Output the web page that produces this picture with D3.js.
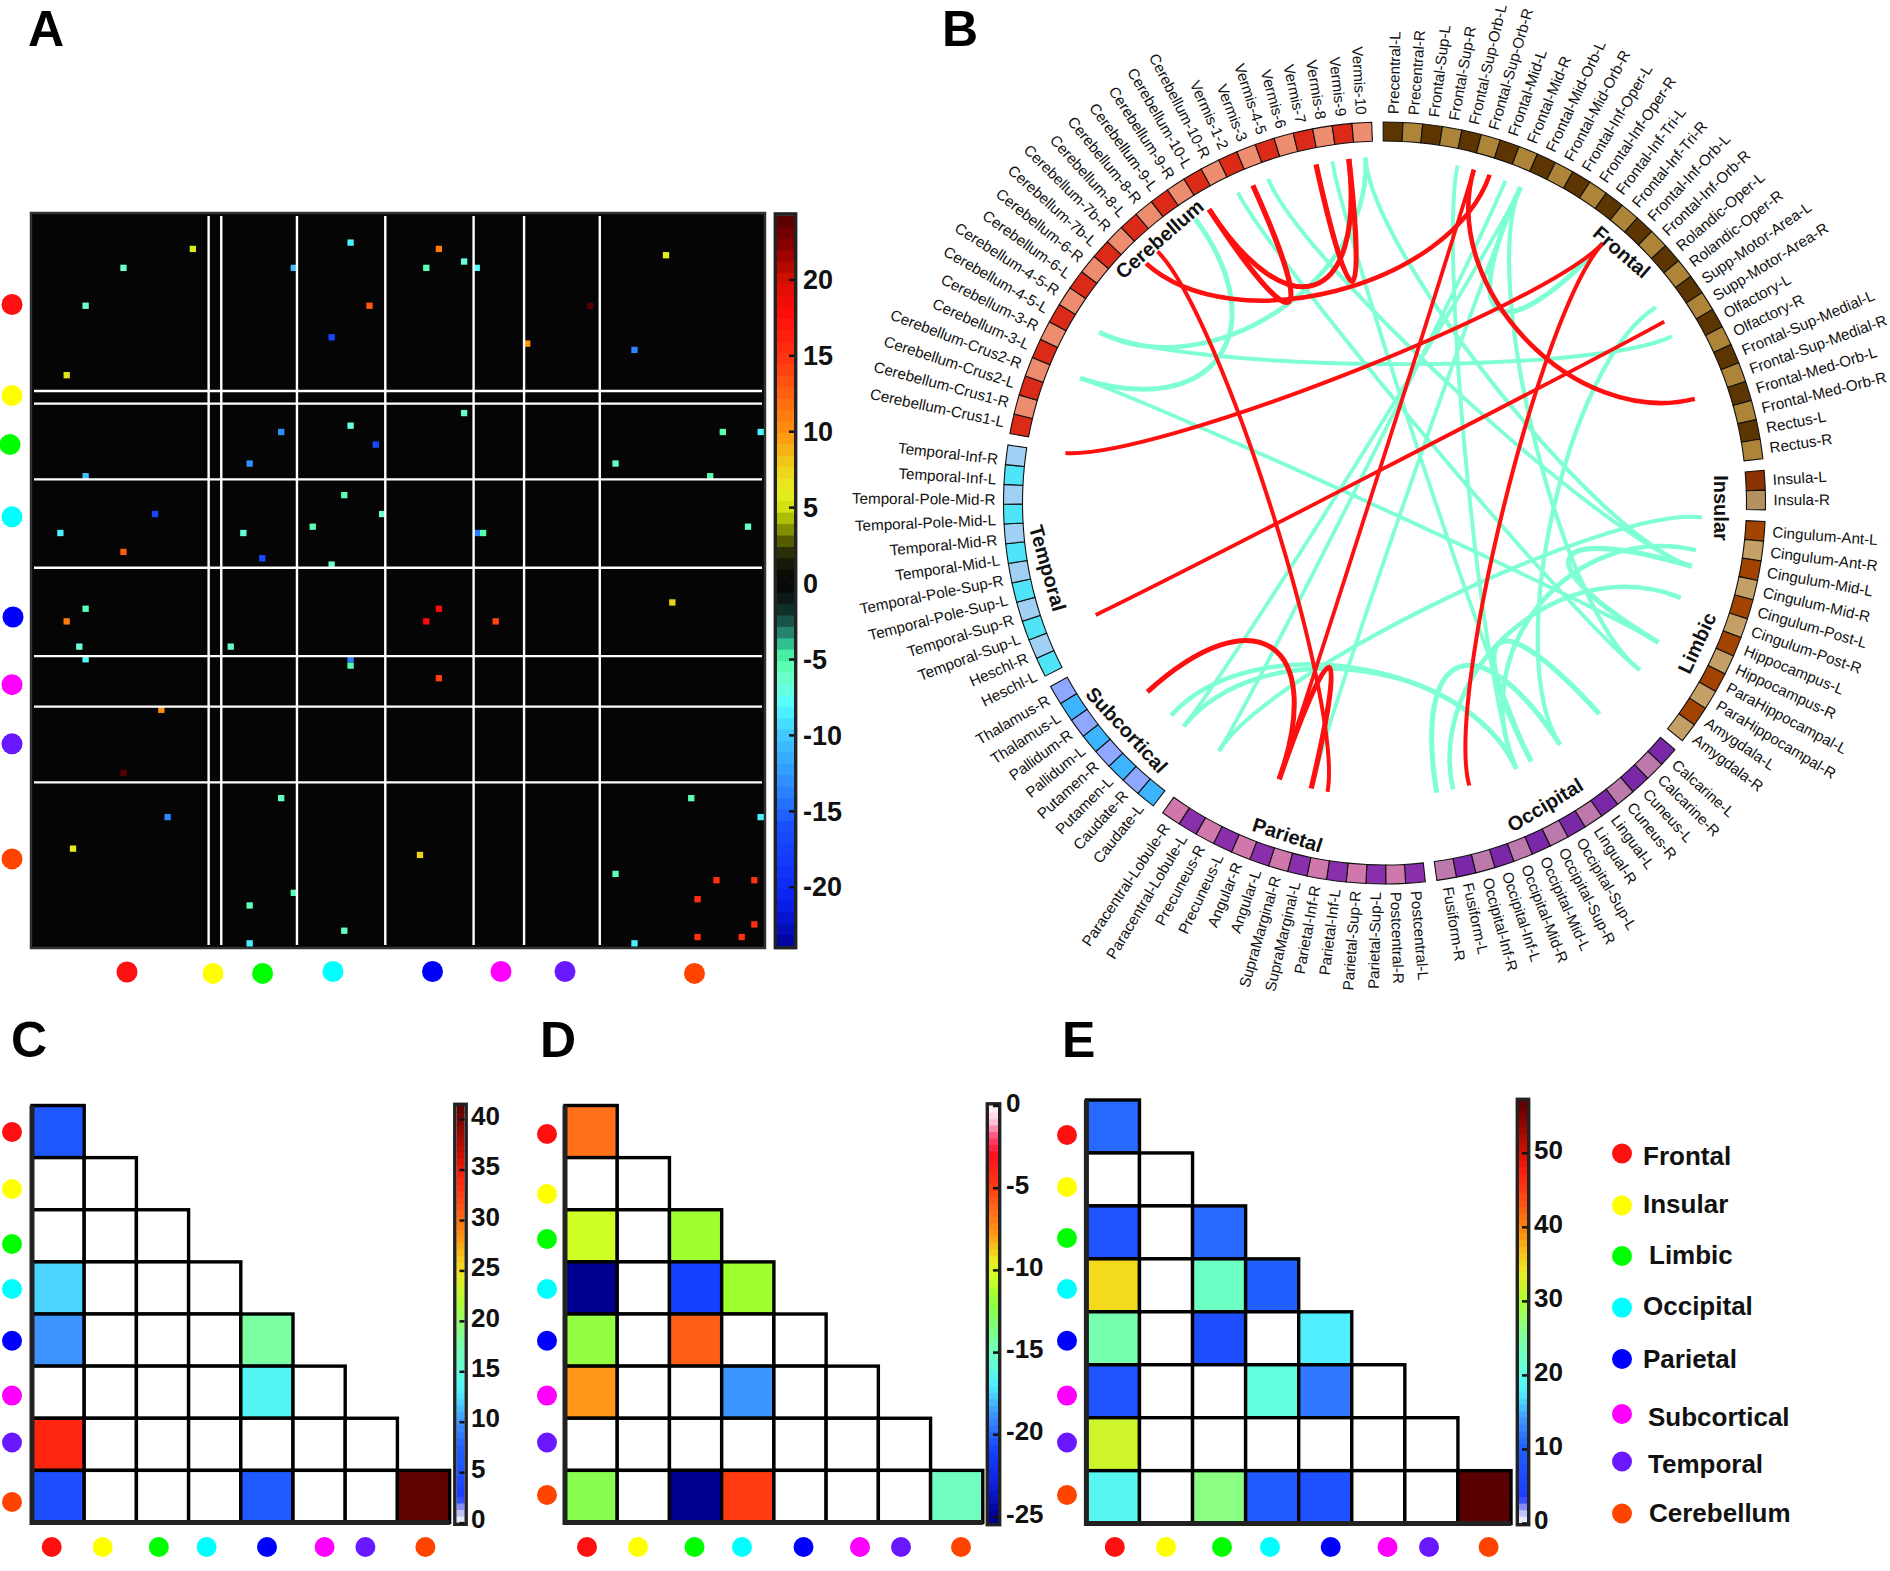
<!DOCTYPE html>
<html><head><meta charset="utf-8">
<script src="https://cdn.jsdelivr.net/npm/d3@7"></script>
<style>html,body{margin:0;padding:0;background:#fff}svg{display:block}text{font-family:"Liberation Sans",Arial,sans-serif}</style>
</head><body><svg id="c" width="1890" height="1571"></svg>
<script>
const groupNames=["Frontal","Insular","Limbic","Occipital","Parietal","Subcortical","Temporal","Cerebellum"];
const groupColors=["#ff1010","#ffff00","#00ff00","#00ffff","#0000ff","#ff00ff","#6a18ff","#ff4400"];
const frontal=["Precentral-L","Precentral-R","Frontal-Sup-L","Frontal-Sup-R","Frontal-Sup-Orb-L","Frontal-Sup-Orb-R","Frontal-Mid-L","Frontal-Mid-R","Frontal-Mid-Orb-L","Frontal-Mid-Orb-R","Frontal-Inf-Oper-L","Frontal-Inf-Oper-R","Frontal-Inf-Tri-L","Frontal-Inf-Tri-R","Frontal-Inf-Orb-L","Frontal-Inf-Orb-R","Rolandic-Oper-L","Rolandic-Oper-R","Supp-Motor-Area-L","Supp-Motor-Area-R","Olfactory-L","Olfactory-R","Frontal-Sup-Medial-L","Frontal-Sup-Medial-R","Frontal-Med-Orb-L","Frontal-Med-Orb-R","Rectus-L","Rectus-R"];
const insular=["Insula-L","Insula-R"];
const limbic=["Cingulum-Ant-L","Cingulum-Ant-R","Cingulum-Mid-L","Cingulum-Mid-R","Cingulum-Post-L","Cingulum-Post-R","Hippocampus-L","Hippocampus-R","ParaHippocampal-L","ParaHippocampal-R","Amygdala-L","Amygdala-R"];
const occipital=["Calcarine-L","Calcarine-R","Cuneus-L","Cuneus-R","Lingual-L","Lingual-R","Occipital-Sup-L","Occipital-Sup-R","Occipital-Mid-L","Occipital-Mid-R","Occipital-Inf-L","Occipital-Inf-R","Fusiform-L","Fusiform-R"];
const parietal=["Postcentral-L","Postcentral-R","Parietal-Sup-L","Parietal-Sup-R","Parietal-Inf-L","Parietal-Inf-R","SupraMarginal-L","SupraMarginal-R","Angular-L","Angular-R","Precuneus-L","Precuneus-R","Paracentral-Lobule-L","Paracentral-Lobule-R"];
const subcortical=["Caudate-L","Caudate-R","Putamen-L","Putamen-R","Pallidum-L","Pallidum-R","Thalamus-L","Thalamus-R"];
const temporal=["Heschl-L","Heschl-R","Temporal-Sup-L","Temporal-Sup-R","Temporal-Pole-Sup-L","Temporal-Pole-Sup-R","Temporal-Mid-L","Temporal-Mid-R","Temporal-Pole-Mid-L","Temporal-Pole-Mid-R","Temporal-Inf-L","Temporal-Inf-R"];
const cerebellum=["Cerebellum-Crus1-L","Cerebellum-Crus1-R","Cerebellum-Crus2-L","Cerebellum-Crus2-R","Cerebellum-3-L","Cerebellum-3-R","Cerebellum-4-5-L","Cerebellum-4-5-R","Cerebellum-6-L","Cerebellum-6-R","Cerebellum-7b-L","Cerebellum-7b-R","Cerebellum-8-L","Cerebellum-8-R","Cerebellum-9-L","Cerebellum-9-R","Cerebellum-10-L","Cerebellum-10-R","Vermis-1-2","Vermis-3","Vermis-4-5","Vermis-6","Vermis-7","Vermis-8","Vermis-9","Vermis-10"];
const groups=[frontal,insular,limbic,occipital,parietal,subcortical,temporal,cerebellum];
// significant connections: ROI index, ROI index, value
const edges=[[4,50,-8.5],[5,25,5.5],[5,64,11],[6,100,5.8],[7,68,-7],[8,14,-6.3],[8,41,-10.5],[8,62,-5.5],[8,70,-8],[14,53,13],[14,88,24],[19,47,-17],[20,78,10],[21,95,-13.5],[31,68,-6],[33,50,-7],[34,39,-13],[34,109,-5.5],[34,115,-8.5],[36,54,-16.5],[39,92,-5.8],[41,107,-5.3],[44,49,-5.5],[47,55,-6.3],[49,113,-6],[50,71,-5.2],[50,70,-14],[61,101,7.5],[62,64,18],[64,73,14],[92,104,-5.5],[95,115,-8.5],[105,108,15],[105,114,15],[112,114,15]];
const matrixC=[[6],[null,null],[null,null,null],[12,null,null,null],[10,null,null,null,18],[null,null,null,null,13.5,null],[34,null,null,null,null,null,null],[5,null,null,null,6.5,null,null,41]];
const matrixD=[[-6.5],[null,null],[-10.5,null,-11.5],[-25,null,-21,-11.5],[-12,null,-6,null,null],[-7.8,null,null,-18.8,null,null],[null,null,null,null,null,null,null],[-12.5,null,-25,-5,null,null,null,-15]];
const matrixE=[[11],[null,null],[8,null,11],[35,null,22.5,10],[24,null,7,null,17.7],[8,null,null,20.5,12,null],[32,null,null,null,null,null,null],[19,null,26.5,9,7.5,null,null,57]];
const ticksA=[-20,-15,-10,-5,0,5,10,15,20];
const ticksC=[0,5,10,15,20,25,30,35,40];
const ticksD=[0,-5,-10,-15,-20,-25];
const ticksE=[0,10,20,30,40,50];
const ringDark=["#5c3500","#8b3000","#a24400","#7a28a8","#8a2fab","#3cb4ff","#50e4f8","#dc2a18"];
const ringLight=["#ad8438","#b5915f","#c4a066","#bd78ac","#d078ac","#8fa8ff","#a0d0f4","#ee8c70"];

const svg=d3.select("#c");
const FONT_B=700;
function stops(v,c){return d3.scaleLinear().domain(v).range(c).clamp(true).interpolate(d3.interpolateRgb);}
const colorA=stops([-24,-21,-16,-13,-10,-8,-6.5,-5,-4,-3,-2,-1,0,1,2,3,4,5,6,8,10,12,15,18,20,22,24.3],["#000090","#0a20f0","#1a50ff","#3090ff","#40c8ff","#50ffff","#70ffd0","#50ffa8","#30c090","#207060","#103830","#0a1a18","#050505","#101008","#2a2c08","#606a00","#a0b000","#d0e010","#e8f020","#f0c818","#ff9010","#ff6a10","#ff3010","#ff0a0a","#d01000","#900000","#500000"]);
const tS=[0,.03,.06,.18,.24,.31,.36,.44,.53,.6,.68,.76,.83,.88,1];
const tC=["#ffffff","#b0b0f0","#1a3cff","#2060ff","#3d90ff","#50eeff","#60ffe0","#7cffa0","#b0ff30","#f0e820","#ff9a10","#ff5010","#ff2010","#d01000","#5a0000"];
const colorC=stops(tS.map(t=>t*41.3),tC);
const colorE=stops(tS.map(t=>t*57),tC);
const colorD=stops([-25,-23,-21,-18.8,-17,-15,-12.5,-11.5,-10.5,-9.5,-7.8,-6,-5,-3,-2,-1,0],["#000090","#1020e0","#1440ff","#3c94ff","#50eeff","#70ffc0","#88ff50","#a0ff30","#d0ff28","#e8f020","#ff9818","#ff6018","#ff3c10","#ff1020","#ff4070","#ffc0d8","#ffffff"]);

function dot(x,y,i,r){svg.append("circle").attr("cx",x).attr("cy",y).attr("r",r||10).attr("fill",groupColors[i]);}
function letter(t,x,y){svg.append("text").attr("x",x).attr("y",y).attr("font-size",50).attr("font-weight",FONT_B).text(t);}
function colorbar(x0,x1,y0,y1,dom,scale,ticks,fs,lx,dy){
  const y=d3.scaleLinear().domain(dom).range([y1,y0]);
  const n=64,b=d3.range(n);
  const yb=d3.scaleBand().domain(b).range([y1,y0]);
  const g=svg.append("g");
  g.selectAll("rect").data(b).join("rect").attr("x",x0).attr("width",x1-x0).attr("y",d=>yb(d)-.4).attr("height",yb.bandwidth()+.8)
   .attr("fill",d=>scale(dom[0]+(dom[1]-dom[0])*(d+.5)/n));
  g.append("rect").attr("x",x0-1.7).attr("y",y0-1.7).attr("width",x1-x0+3.4).attr("height",y1-y0+3.4).attr("fill","none").attr("stroke","#222").attr("stroke-width",3.4);
  const ax=svg.append("g").attr("transform",`translate(${x1},0)`).call(d3.axisRight(y).tickValues(ticks).tickSize(-5).tickPadding(lx-x1).tickFormat(d=>String(d)));
  ax.select(".domain").remove();
  ax.selectAll("line").attr("stroke","#111").attr("stroke-width",2.5);
  ax.selectAll("text").attr("font-size",fs).attr("font-weight",FONT_B).attr("fill","#111").attr("font-family",'"Liberation Sans"').attr("dy",dy);
}

// Panel A
letter("A",28,46);
const idx=d3.range(116);
const xA=d3.scaleBand().domain(idx).range([32,763.8]);
const yA=d3.scaleBand().domain(idx).range([214.2,946.5]);
svg.append("rect").attr("x",31).attr("y",213).attr("width",734).attr("height",735).attr("fill","#050505").attr("stroke","#333").attr("stroke-width",2.5);
const cellsA=edges.flatMap(([a,b,v])=>[{r:a,c:b,v},{r:b,c:a,v}]);
svg.append("g").selectAll("rect").data(cellsA).join("rect")
  .attr("x",d=>xA(d.c)).attr("y",d=>yA(d.r)).attr("width",xA.bandwidth()).attr("height",yA.bandwidth()).attr("fill",d=>colorA(d.v));
let acc=0;const bounds=groups.slice(0,-1).map(g=>acc+=g.length);
const sep=svg.append("g").attr("stroke","#fff").attr("stroke-width",2.4);
bounds.forEach(b=>{
  sep.append("line").attr("x1",xA(b)).attr("x2",xA(b)).attr("y1",216).attr("y2",945);
  sep.append("line").attr("y1",yA(b)).attr("y2",yA(b)).attr("x1",34).attr("x2",762);
});
colorbar(777,794,215.6,946,[-23.9,24.2],colorA,ticksA,27,803,"0.34em");
[[12,304.5],[12,395.5],[10,444.6],[12,516.8],[13,617],[12,684.7],[12,743.8],[12,858.9]].forEach((p,i)=>dot(p[0],p[1],i,10.5));
[[127,972],[213,973.4],[262.6,973.4],[333,971.5],[432.5,971.5],[501,971.5],[565,971.5],[694.5,973.4]].forEach((p,i)=>dot(p[0],p[1],i,10.5));

// Panel B
letter("B",942,46);
const cx=1384.5,cy=503,rOut=381,rIn=362,chordCy=477,chordR=320;
const d2r=Math.PI/180,step=2.983,gapA=1.75,startA=-0.2;
const labelShift=[0,0,0,0,0,0,-0.8,0];
const rois=[];let ang=startA;
groups.forEach((g,gi)=>{g.forEach((name,k)=>{rois.push({name,gi,k,a0:ang,a1:ang+step});ang+=step;});ang+=gapA;});
const gB=svg.append("g").attr("transform",`translate(${cx},${cy})`);
const arc=d3.arc().innerRadius(rIn).outerRadius(rOut);
gB.selectAll("path.s").data(rois).join("path").attr("class","s")
  .attr("d",d=>arc({startAngle:d.a0*d2r,endAngle:d.a1*d2r}))
  .attr("fill",d=>(d.k%2?ringLight:ringDark)[d.gi]).attr("stroke","#111").attr("stroke-width",1.1);
gB.selectAll("text.l").data(rois).join("text").attr("class","l")
  .attr("font-size",15.2).attr("fill","#111").attr("dy","0.35em")
  .attr("text-anchor",d=>(d.a0+d.a1)/2<180?"start":"end")
  .attr("transform",d=>{const m=(d.a0+d.a1)/2+labelShift[d.gi];const rot=m<180?m-90:m+90;return `rotate(${m-90}) translate(${rOut+8},0) rotate(${rot-(m-90)})`;})
  .text(d=>d.name);
function endpoint(i){const m=(rois[i].a0+rois[i].a1)/2*d2r;return [cx+chordR*Math.sin(m),chordCy-chordR*Math.cos(m)];}
const chords=svg.append("g").attr("fill","none").attr("stroke-linecap","butt");
edges.slice().sort((p,q)=>(p[2]>0)-(q[2]>0)).forEach(([a,b,v])=>{
  const p=endpoint(a),q=endpoint(b);
  const len=Math.hypot(p[0]-q[0],p[1]-q[1])/(2*chordR);
  const k=.52-.27*len;
  const path=d3.path();
  path.moveTo(p[0],p[1]);
  path.bezierCurveTo(p[0]+k*(cx-p[0]),p[1]+k*(chordCy-p[1]),q[0]+k*(cx-q[0]),q[1]+k*(chordCy-q[1]),q[0],q[1]);
  chords.append("path").attr("d",path.toString()).attr("stroke",v>0?"#ff1010":"#7fffd4").attr("stroke-width",3.8+1.6*(1-len));
});
const groupLabels=[["Frontal",1621.6,252,41],["Insular",1721,508,90],["Limbic",1697,643,-65],["Occipital",1545,805,-31],["Parietal",1287.5,835,18],["Subcortical",1126.7,730,47],["Temporal",1047.6,568,74],["Cerebellum",1159.5,239,-41]];
svg.append("g").selectAll("text").data(groupLabels).join("text")
  .attr("text-anchor","middle").attr("dy","0.35em").attr("font-size",20).attr("font-weight",700).attr("fill","#111")
  .attr("transform",d=>`translate(${d[1]},${d[2]}) rotate(${d[3]})`).text(d=>d[0]);

// Triangular panels
function tri(mat,x0,x1,y0,y1,color){
  const s=d3.range(8);
  const x=d3.scaleBand().domain(s).range([x0,x1]);
  const y=d3.scaleBand().domain(s).range([y0,y1]);
  const g=svg.append("g");
  const cells=mat.flatMap((row,r)=>row.map((v,c)=>({r,c,v})));
  g.selectAll("rect").data(cells).join("rect")
    .attr("x",d=>x(d.c)).attr("y",d=>y(d.r)).attr("width",x.bandwidth()).attr("height",y.bandwidth())
    .attr("fill",d=>d.v==null?"#fff":color(d.v)).attr("stroke","#000").attr("stroke-width",3.4);
  g.append("path").attr("d",`M${x0},${y0}V${y1}H${x1}`).attr("fill","none").attr("stroke","#222").attr("stroke-width",5);
}
letter("C",11,1057);
tri(matrixC,32,449.6,1105.5,1522.5,colorC);
colorbar(456.5,464.5,1106,1522.6,[0,41.3],colorC,ticksC,26,471,"0.2em");
[1132,1189,1244,1289,1340.7,1395.6,1442.5,1502].forEach((y,i)=>dot(12,y,i));
[51.7,102.7,158.8,206.6,267,324.6,365.4,425.4].forEach((x,i)=>dot(x,1547,i));

letter("D",540,1057);
tri(matrixD,565,982.8,1105.5,1522.5,colorD);
colorbar(989,998,1105.5,1523,[-25.4,0],colorD,ticksD,26,1006,"0.22em");
[1134,1194,1239,1289,1340.7,1395.6,1442.5,1495].forEach((y,i)=>dot(547,y,i));
[587,638,694.5,742,803.5,860,901,961].forEach((x,i)=>dot(x,1547,i));

letter("E",1062,1057);
tri(matrixE,1086.4,1511,1100,1523.6,colorE);
colorbar(1519,1527,1101,1523,[0,57],colorE,ticksE,26,1534,"0.2em");
[1135,1187,1238,1289,1340.7,1395.6,1442.5,1495].forEach((y,i)=>dot(1067,y,i));
[1114.8,1166,1222,1270,1330.7,1387.5,1429,1488.6].forEach((x,i)=>dot(x,1547,i));

// Legend
const legendY=[1153.5,1205.5,1256,1307.6,1359,1414,1461.5,1513.5];
const legendTextX=[1643,1643,1649,1643,1643,1648,1648,1649];
const legendTextY=[1156,1203.6,1254.5,1306,1359,1417,1463.6,1512.7];
groupNames.forEach((n,i)=>{
  dot(1622,legendY[i],i);
  svg.append("text").attr("x",legendTextX[i]).attr("y",legendTextY[i]).attr("dy","0.35em").attr("font-size",26).attr("font-weight",700).attr("fill","#111").text(n);
});
</script></body></html>
